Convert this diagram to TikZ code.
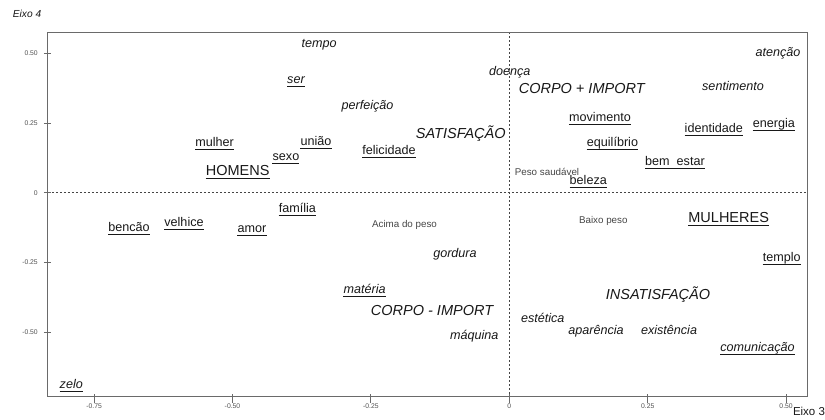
\documentclass[tikz,border=0pt]{standalone}
\usepackage{fontspec}
\setmainfont{Liberation Sans}
\usepackage{tikz}
\definecolor{inkc}{HTML}{181818}
\definecolor{pesoc}{HTML}{454545}
\definecolor{framec}{HTML}{6A6A6A}
\definecolor{tickc}{HTML}{505050}

\tikzset{
  word/.style={font=\fontsize{12.6}{14}\selectfont, text=inkc, inner sep=0pt, anchor=mid, yshift=-2pt},
  itword/.style={word, font=\fontsize{12.6}{14}\selectfont\itshape},
  bigword/.style={word, font=\fontsize{14.5}{16}\selectfont},
  bigitword/.style={word, font=\fontsize{14.5}{16}\selectfont\itshape},
  smallword/.style={word, font=\fontsize{9.8}{11}\selectfont, text=pesoc},
  ul/.style={append after command={
      ([yshift=-3pt]\tikzlastnode.base west) edge[draw=inkc, line width=1pt] ([yshift=-3pt]\tikzlastnode.base east)}},
  ticklbl/.style={font=\fontsize{6.8}{7}\selectfont, text=tickc, inner sep=0pt},
  tickmark/.style={draw=framec, line width=0.8pt},
  zeroline/.style={draw=pesoc, line width=0.8pt, dash pattern=on 2pt off 2pt}
}

\begin{document}
\begin{tikzpicture}[x=553.6pt, y=278.4pt]
    \useasboundingbox (-0.91998,-0.81286) rectangle (0.57027,0.69217);
    \coordinate (SW) at (-0.8333,-0.7338); \coordinate (NE) at (0.5378,0.5772);
    \coordinate (L) at (-0.8333,0);        \coordinate (R) at (0.5378,0);
    \coordinate (T) at (0,0.5772);         \coordinate (B) at (0,-0.7338);

    \draw[zeroline] (L) -- (R);
    \draw[zeroline] (T) -- (B);
    \draw[draw=framec, line width=1pt] (SW) rectangle (NE);

    \draw[tickmark] (-0.8333,0.5) ++(-4pt,0) -- ++(7pt,0);
    \draw[tickmark] (-0.8333,0.25) ++(-4pt,0) -- ++(7pt,0);
    \draw[tickmark] (-0.8333,0) ++(-4pt,0) -- ++(7pt,0);
    \draw[tickmark] (-0.8333,-0.25) ++(-4pt,0) -- ++(7pt,0);
    \draw[tickmark] (-0.8333,-0.5) ++(-4pt,0) -- ++(7pt,0);
    \draw[tickmark] (-0.75,-0.7338) ++(0,-6pt) -- ++(0,9pt);
    \draw[tickmark] (-0.5,-0.7338) ++(0,-6pt) -- ++(0,9pt);
    \draw[tickmark] (-0.25,-0.7338) ++(0,-6pt) -- ++(0,9pt);
    \draw[tickmark] (0,-0.7338) ++(0,-6pt) -- ++(0,9pt);
    \draw[tickmark] (0.25,-0.7338) ++(0,-6pt) -- ++(0,9pt);
    \draw[tickmark] (0.5,-0.7338) ++(0,-6pt) -- ++(0,9pt);

    \node[ticklbl, anchor=east] (y50) at (-0.8514,0.5) {0.50};
    \node[ticklbl, anchor=east] (y25) at (-0.8514,0.25) {0.25};
    \node[ticklbl, anchor=east] (y0) at (-0.8514,0) {0};
    \node[ticklbl, anchor=east] (ym25) at (-0.8514,-0.25) {-0.25};
    \node[ticklbl, anchor=east] (ym50) at (-0.8514,-0.5) {-0.50};
    \node[ticklbl] (xm75) at (-0.75,-0.7651) {-0.75};
    \node[ticklbl] (xm50) at (-0.5,-0.7651) {-0.50};
    \node[ticklbl] (xm25) at (-0.25,-0.7651) {-0.25};
    \node[ticklbl] (x0) at (0,-0.7651) {0};
    \node[ticklbl] (x25) at (0.25,-0.7651) {0.25};
    \node[ticklbl] (x50) at (0.5,-0.7651) {0.50};

    \node[font=\fontsize{10.2}{12}\selectfont\itshape, text=inkc, inner sep=0pt, anchor=west] (eixo4) at (-0.8970,0.6419) {Eixo 4};
    \node[font=\fontsize{11.5}{13}\selectfont, text=inkc, inner sep=0pt, anchor=west] (eixo3) at (0.5121,-0.7841) {Eixo 3};

    \node[itword] (tempo) at (-0.3437,0.5374) {tempo};
    \node[itword, ul] (ser) at (-0.3853,0.4084) {ser};
    \node[itword] (perfeicao) at (-0.2561,0.3150) {perfeição};
    \node[word, ul] (mulher) at (-0.5322,0.1821) {mulher};
    \node[word, ul] (uniao) at (-0.3492,0.1857) {união};
    \node[word, ul] (sexo) at (-0.4034,0.1318) {sexo};
    \node[bigword, ul] (homens) at (-0.4906,0.0779) {HOMENS};
    \node[word, ul] (felicidade) at (-0.2173,0.1534) {felicidade};
    \node[bigitword] (satisf) at (-0.0876,0.2108) {SATISFAÇÃO};
    \node[itword] (doenca) at (0.0007,0.4382) {doença};
    \node[bigitword] (corpomais) at (0.1308,0.3714) {CORPO + IMPORT};
    \node[itword] (atencao) at (0.4854,0.5043) {atenção};
    \node[itword] (sentimento) at (0.4041,0.3833) {sentimento};
    \node[word, ul] (movimento) at (0.1638,0.2708) {movimento};
    \node[word, ul] (identidade) at (0.3694,0.2313) {identidade};
    \node[word, ul] (energia) at (0.4778,0.2493) {energia};
    \node[word, ul] (equilibrio) at (0.1864,0.1810) {equilíbrio};
    \node[word, ul] (bemestar) at (0.2993,0.1128) {bem\ \ estar};
    \node[smallword] (saudavel) at (0.0681,0.0790) {Peso saudável};
    \node[word, ul] (beleza) at (0.1427,0.0456) {beleza};

    \node[word, ul] (familia) at (-0.3829,-0.0560) {família};
    \node[word, ul] (bencao) at (-0.6870,-0.1221) {bencão};
    \node[word, ul] (velhice) at (-0.5876,-0.1042) {velhice};
    \node[word, ul] (amor) at (-0.4648,-0.1279) {amor};
    \node[smallword] (acima) at (-0.1893,-0.1078) {Acima do peso};
    \node[smallword] (baixo) at (0.1698,-0.0955) {Baixo peso};
    \node[bigword, ul] (mulheres) at (0.3963,-0.0898) {MULHERES};
    \node[itword] (gordura) at (-0.0981,-0.2155) {gordura};
    \node[word, ul] (templo) at (0.4922,-0.2320) {templo};
    \node[itword, ul] (materia) at (-0.2612,-0.3459) {matéria};
    \node[bigitword] (corpomenos) at (-0.1396,-0.4249) {CORPO - IMPORT};
    \node[bigitword] (insatisf) at (0.2686,-0.3675) {INSATISFAÇÃO};
    \node[itword] (estetica) at (0.0605,-0.4490) {estética};
    \node[itword] (aparencia) at (0.1566,-0.4932) {aparência};
    \node[itword] (existencia) at (0.2885,-0.4932) {existência};
    \node[itword] (maquina) at (-0.0634,-0.5111) {máquina};
    \node[itword, ul] (comunicacao) at (0.4483,-0.5532) {comunicação};
    \node[itword, ul] (zelo) at (-0.7912,-0.6872) {zelo};
\end{tikzpicture}
\end{document}
